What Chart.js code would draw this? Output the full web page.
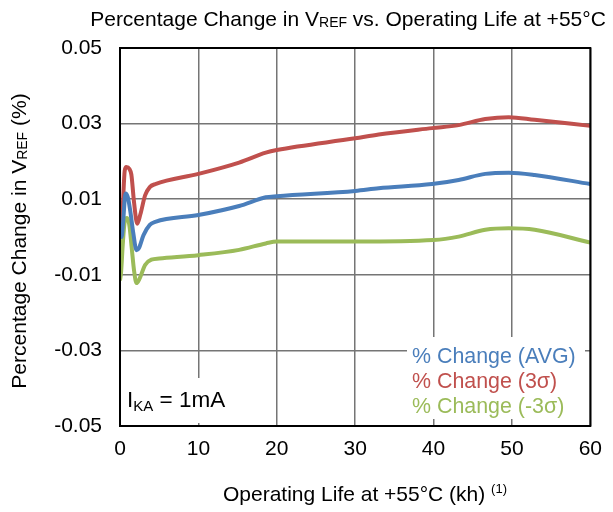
<!DOCTYPE html>
<html>
<head>
<meta charset="utf-8">
<script src="https://cdn.jsdelivr.net/npm/chart.js@4.4.1/dist/chart.umd.min.js"></script>
<style>
  body { margin: 0; background: #fff; }
  #wrap { width: 613px; height: 512px; }
</style>
</head>
<body>
<div id="wrap"><canvas id="lifeChart" width="613" height="512"></canvas></div>
<script>
// axis ticks
const xTicks = [0, 10, 20, 30, 40, 50, 60];
const yTicks = [-0.05, -0.03, -0.01, 0.01, 0.03, 0.05];

// % change (AVG)
const avgHours = [0, 0.2, 0.4, 0.7, 1.0, 1.3, 1.7, 2.1, 2.4, 3.0, 3.8, 4.5, 10, 15.2, 18.6, 20, 30, 33, 39.8, 43.2, 46.6, 49.6, 52.9, 60];
const avgValues = [0.001, 0.0, 0.004, 0.0115, 0.0105, 0.007, 0.001, -0.0035, -0.003, 0.0005, 0.0032, 0.004, 0.0058, 0.0082, 0.0105, 0.0108, 0.0122, 0.0129, 0.014, 0.0151, 0.0167, 0.017, 0.0164, 0.014];

// % change (3 sigma)
const hiHours = [0, 0.15, 0.35, 0.6, 0.8, 1.2, 1.45, 1.8, 2.2, 2.6, 3.2, 3.8, 4.5, 10, 15.2, 18.6, 20, 30, 33, 39.8, 43.2, 46.6, 49.6, 52.9, 60];
const hiValues = [0.004, 0.003, 0.008, 0.0175, 0.0185, 0.018, 0.0165, 0.009, 0.0035, 0.006, 0.011, 0.0132, 0.014, 0.0167, 0.0197, 0.0223, 0.023, 0.0261, 0.0271, 0.0288, 0.0296, 0.0312, 0.0317, 0.031, 0.0294];

// % change (-3 sigma)
const loHours = [0, 0.15, 0.35, 0.6, 0.9, 1.2, 1.5, 1.8, 2.1, 2.5, 3.2, 4.0, 5, 10, 15.2, 18.6, 20, 30, 40, 43.2, 46.6, 49.6, 52.9, 60];
const loValues = [-0.0115, -0.009, -0.002, 0.004, 0.005, 0.003, -0.003, -0.009, -0.0122, -0.011, -0.0074, -0.006, -0.0057, -0.0048, -0.0034, -0.0017, -0.0012, -0.0012, -0.0008, 0.0001, 0.0019, 0.0023, 0.0019, -0.0015];

const FONT = '"Liberation Sans", Arial, sans-serif';
const BLUE = '#4a7ebb';
const RED = '#c0504d';
const GREEN = '#9bbb59';

function pts(xs, ys) {
  return xs.map((x, i) => ({ x: x, y: ys[i] }));
}

// draws text made of pieces: [text, size, yShift]
function richText(ctx, parts, x, y, align) {
  let total = 0;
  parts.forEach(p => {
    ctx.font = p[1] + 'px ' + FONT;
    total += ctx.measureText(p[0]).width;
  });
  let cx = align === 'center' ? x - total / 2 : x;
  parts.forEach(p => {
    ctx.font = p[1] + 'px ' + FONT;
    ctx.fillText(p[0], cx, y + (p[2] || 0));
    cx += ctx.measureText(p[0]).width;
  });
}

const decorations = {
  id: 'decorations',
  afterDatasetsDraw(chart) {
    const ctx = chart.ctx;
    const a = chart.chartArea;
    ctx.save();
    ctx.textBaseline = 'alphabetic';

    // legend box
    ctx.fillStyle = '#fff';
    ctx.fillRect(407, 337, 178, 82);
    const legend = [['% Change (AVG)', BLUE], ['% Change (3\u03c3)', RED], ['% Change (-3\u03c3)', GREEN]];
    legend.forEach((l, i) => {
      ctx.fillStyle = l[1];
      richText(ctx, [[l[0], 21.4]], 412, 363 + i * 25, 'left');
    });

    // I_KA label
    ctx.fillStyle = '#fff';
    ctx.fillRect(122, 378, 114, 45);
    ctx.fillStyle = '#000';
    richText(ctx, [['I', 22.5], ['KA', 15, 4], [' = 1mA', 22.5]], 127, 407, 'left');

    // frame
    ctx.strokeStyle = '#000';
    ctx.lineWidth = 2;
    ctx.strokeRect(a.left, a.top, a.right - a.left, a.bottom - a.top);

    // titles
    ctx.fillStyle = '#000';
    richText(ctx, [['Percentage Change in V', 21], ['REF', 14, 1], [' vs. Operating Life at +55\u00b0C', 21]], 348, 26, 'center');
    richText(ctx, [['Operating Life at +55\u00b0C (kh) ', 21], ['(1)', 13, -8]], 365, 501, 'center');
    ctx.translate(26, 241);
    ctx.rotate(-Math.PI / 2);
    richText(ctx, [['Percentage Change in V', 21], ['REF', 14, 1], [' (%)', 21]], 0, 0, 'center');
    ctx.restore();
  }
};

new Chart(document.getElementById('lifeChart'), {
  type: 'line',
  data: {
    datasets: [
      { label: '% Change (AVG)', data: pts(avgHours, avgValues), borderColor: BLUE },
      { label: '% Change (3\u03c3)', data: pts(hiHours, hiValues), borderColor: RED },
      { label: '% Change (-3\u03c3)', data: pts(loHours, loValues), borderColor: GREEN }
    ]
  },
  options: {
    responsive: false,
    animation: false,
    layout: { padding: { left: 0, top: 48, right: 21, bottom: 0 } },
    elements: {
      point: { radius: 0 },
      line: { borderWidth: 4, cubicInterpolationMode: 'monotone' }
    },
    plugins: {
      legend: { display: false },
      title: { display: false },
      tooltip: { enabled: false }
    },
    scales: {
      x: {
        type: 'linear',
        min: 0,
        max: 60,
        afterBuildTicks: s => { s.ticks = xTicks.map(v => ({ value: v })); },
        afterFit: s => { s.height = 86; },
        grid: { color: '#757575', lineWidth: 1.5, drawTicks: false },
        border: { display: false },
        ticks: { padding: 11, color: '#000', font: { family: FONT, size: 21 } }
      },
      y: {
        type: 'linear',
        min: -0.05,
        max: 0.05,
        afterBuildTicks: s => { s.ticks = yTicks.map(v => ({ value: v })); },
        afterFit: s => { s.width = 120; },
        grid: { color: '#757575', lineWidth: 1.5, drawTicks: false },
        border: { display: false },
        ticks: {
          padding: 18,
          color: '#000',
          font: { family: FONT, size: 21 },
          callback: v => v.toFixed(2)
        }
      }
    }
  },
  plugins: [decorations]
});
</script>
</body>
</html>
